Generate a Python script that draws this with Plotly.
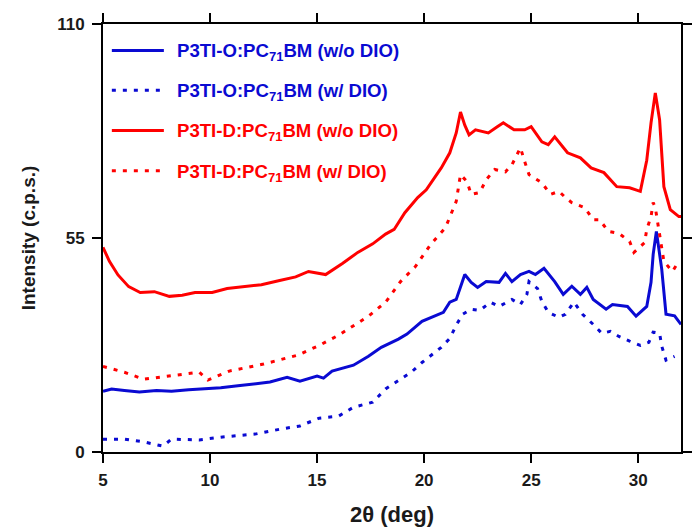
import plotly.graph_objects as go

# ---- data ----
x_d_wo = [5, 5.3, 5.7, 6.2, 6.74, 7.4, 8.1, 8.7, 9.3, 10.1, 10.8, 11.5, 12.4, 13.2, 14, 14.6, 15.4, 16.2, 16.9,
          17.6, 18.2, 18.6, 19.1, 19.7, 20.1, 20.8, 21.2, 21.5, 21.7, 21.9, 22.1, 22.4, 23.0, 23.4, 23.7, 24.2,
          24.7, 25.0, 25.5, 25.8, 26.1, 26.7, 27.3, 27.8, 28.4, 29.0, 29.6, 30.1, 30.4, 30.6, 30.8, 31.0, 31.2,
          31.5, 31.9, 32]
y_d_wo = [52.6, 49, 45.5, 42.5, 41, 41.2, 40, 40.3, 41, 41, 42, 42.5, 43, 44, 45, 46.4, 45.6, 48.5, 51.3,
          53.5, 56, 57.2, 61.5, 65.4, 67.4, 73, 76.9, 82, 87.4, 84, 81.5, 82.8, 82, 83.5, 84.6, 82.8,
          82.8, 83.6, 79.7, 79, 81, 76.9, 75.6, 73, 71.8, 68.2, 67.9, 67, 75, 84.6, 92.3, 85.4, 68.2,
          62.3, 60.5, 60.5]

x_d_w = [5, 6, 6.9, 8, 9.5, 9.9, 10.9, 12.5, 14.1, 15.1, 16, 17.4, 18.2, 18.9, 19.6, 20.3, 21, 21.5, 21.7,
         22.0, 22.2, 22.6, 22.9, 23.3, 23.8, 24.1, 24.5, 24.7, 24.9, 25.5, 25.9, 26.3, 26.6, 26.9, 27.5, 27.9,
         28.2, 28.6, 29.1, 29.6, 29.8, 30.3, 30.4, 30.6, 30.7, 30.8, 31.0, 31.1, 31.2, 31.6, 31.9]
y_d_w = [22, 20.5, 18.7, 19.5, 20.5, 18.5, 20.8, 22.6, 24.9, 27.4, 30, 34.9, 38.5, 43.8, 47.7, 53.3, 57.7, 64.4, 71.3,
         69.5, 66.2, 66.7, 70, 72.6, 72, 73.8, 78.2, 74.6, 71.3, 69.2, 66.2, 67, 65.4, 64.1, 62.8, 59.7,
         59.7, 56.7, 56.2, 54.1, 51.3, 53.8, 57.2, 60.5, 64.1, 62.8, 56.4, 52.8, 49, 46.4, 49]

x_o_wo = [5, 5.4, 6, 6.7, 7.5, 8.2, 9, 9.8, 10.5, 11.3, 12.1, 12.8, 13.6, 14.2, 15, 15.3, 15.7, 16.7, 17.4, 18,
          18.8, 19.2, 19.9, 20.3, 20.9, 21.2, 21.5, 21.9, 22.2, 22.5, 22.9, 23.5, 23.8, 24.1, 24.5, 24.9, 25.2,
          25.6, 26.1, 26.5, 26.9, 27.3, 27.6, 27.9, 28.5, 28.8, 29.5, 29.9, 30.4, 30.6, 30.7, 30.85, 31.1,
          31.3, 31.7, 32]
y_o_wo = [15.6, 16.2, 15.8, 15.4, 15.8, 15.6, 16, 16.2, 16.5, 17, 17.5, 18, 19.2, 18.2, 19.5, 19, 20.8, 22.3, 24.6, 26.9,
          29, 30.3, 33.6, 34.6, 35.9, 38.5, 39.2, 45.6, 43.6, 42.3, 43.8, 43.6, 45.9, 43.8, 45.6, 46.4, 45.6,
          47.2, 43.8, 40.5, 42.6, 40.5, 42.3, 39.2, 36.7, 37.9, 37.4, 34.9, 37.4, 43.6, 50.8, 56.7, 47,
          35.4, 35, 32.8]

x_o_w = [5, 6, 6.9, 7.8, 8.2, 9.5, 10.5, 12.1, 13.3, 14.2, 15.1, 16, 16.7, 17.6, 18.2, 18.9, 19.4, 19.9, 20.4,
         20.8, 21.2, 21.5, 21.8, 22.2, 22.6, 23.1, 23.5, 24.1, 24.5, 24.8, 24.9, 25.3, 25.5, 25.8, 26.3, 26.6,
         27.0, 27.4, 27.9, 28.3, 28.7, 29.1, 29.6, 30.1, 30.5, 30.7, 31.0, 31.1, 31.3, 31.7]
y_o_w = [3.3, 3.3, 2.6, 1.5, 3.3, 3.1, 3.8, 4.6, 5.9, 6.7, 8.7, 9.2, 11.5, 12.8, 16.2, 18.7, 20.5, 23, 25.1,
         26.9, 29.2, 32.6, 35.4, 36.7, 36.4, 38.5, 37.4, 39.2, 37.9, 40.5, 43.8, 42, 38.7, 35.9, 34.6, 35.4,
         38.5, 35.4, 32.8, 30.5, 31, 29.7, 28.5, 27.4, 28.2, 30.8, 30.5, 27.2, 23.6, 24.6]

names = [
    "P3TI-O:PC<sub>71</sub>BM (w/o DIO)",
    "P3TI-O:PC<sub>71</sub>BM (w/ DIO)",
    "P3TI-D:PC<sub>71</sub>BM (w/o DIO)",
    "P3TI-D:PC<sub>71</sub>BM (w/ DIO)",
]
x_ticks = [5, 10, 15, 20, 25, 30]
y_ticks = [0, 55, 110]

BLUE = "#0a0ad2"
RED = "#ff0000"
FONT = "Liberation Sans, Arial, sans-serif"
DOT = "4px,7px"

series = [
    (x_o_wo, y_o_wo, names[0], BLUE, "solid"),
    (x_o_w, y_o_w, names[1], BLUE, DOT),
    (x_d_wo, y_d_wo, names[2], RED, "solid"),
    (x_d_w, y_d_w, names[3], RED, DOT),
]

fig = go.Figure()
for i, (xs, ys, nm, col, dash) in enumerate(series):
    fig.add_trace(go.Scatter(
        x=xs, y=ys, mode="lines", name=nm, showlegend=False,
        line=dict(color=col, width=3, dash=dash),
    ))

# legend (drawn as paper-referenced key, matching the reference's long samples)
leg_rows = [0.938, 0.845, 0.751, 0.657]
for (xs, ys, nm, col, dash), yr in zip(series, leg_rows):
    fig.add_shape(type="line", xref="paper", yref="paper", x0=0.0153, x1=0.1053, y0=yr, y1=yr,
                  line=dict(color=col, width=3, dash=dash))
    fig.add_annotation(xref="paper", yref="paper", x=0.1239, y=yr - 0.004, xanchor="left", yanchor="middle",
                       text=nm, showarrow=False,
                       font=dict(family=FONT, size=18.6, color=col, weight="bold"))

axis_common = dict(
    showline=True, linecolor="black", linewidth=2, mirror="ticks",
    ticks="outside", ticklen=9, tickwidth=2, tickcolor="black",
    showgrid=False, zeroline=False,
    tickfont=dict(family=FONT, size=17, color="#1a1a1a", weight="bold"),
)

fig.update_layout(
    width=697, height=528,
    margin=dict(l=103, r=5, t=24, b=75),
    plot_bgcolor="white", paper_bgcolor="white",
    xaxis=dict(range=[5, 32], tickvals=x_ticks, ticklabelstandoff=3,
               title=dict(text="2θ (deg)", font=dict(family=FONT, size=22, color="#1a1a1a", weight="bold"),
                          standoff=17),
               **axis_common),
    yaxis=dict(range=[0, 110], tickvals=y_ticks, ticklabelstandoff=4,
               title=dict(text="Intensity (c.p.s.)", font=dict(family=FONT, size=19, color="#1a1a1a", weight="bold"),
                          standoff=17),
               **axis_common),
    showlegend=False,
)

fig.write_html("out.html")
